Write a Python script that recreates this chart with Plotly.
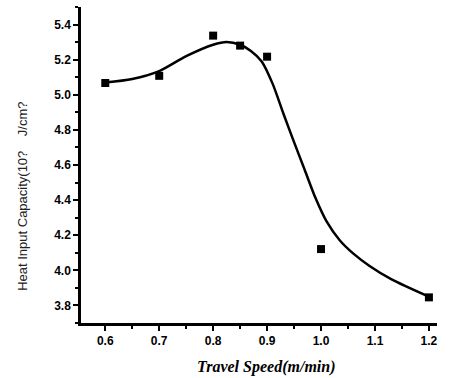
import plotly.graph_objects as go

# measured data
speed = [0.6, 0.7, 0.8, 0.85, 0.9, 1.0, 1.2]
heat = [5.067, 5.108, 5.337, 5.28, 5.217, 4.121, 3.846]

# fitted smooth curve
fit_x = [0.6, 0.65, 0.7, 0.75, 0.8, 0.825, 0.85, 0.87, 0.89, 0.91, 0.93, 0.95, 0.97, 0.99, 1.01, 1.035, 1.06, 1.09, 1.13, 1.2]
fit_y = [5.07, 5.09, 5.135, 5.22, 5.285, 5.30, 5.285, 5.25, 5.19, 5.065, 4.895, 4.73, 4.57, 4.41, 4.28, 4.17, 4.095, 4.025, 3.95, 3.85]

x_ticks = [0.6, 0.7, 0.8, 0.9, 1.0, 1.1, 1.2]
y_ticks = [3.8, 4.0, 4.2, 4.4, 4.6, 4.8, 5.0, 5.2, 5.4]

fig = go.Figure()
fig.add_trace(go.Scatter(x=fit_x, y=fit_y, mode="lines",
                         line=dict(color="black", width=2.5, shape="spline", smoothing=0.8),
                         hoverinfo="skip", showlegend=False))
fig.add_trace(go.Scatter(x=speed, y=heat, mode="markers", marker=dict(symbol="square", size=8, color="black"),
                         showlegend=False))

axis_common = dict(showline=True, linecolor="black", linewidth=2.5, ticks="outside", tickcolor="black",
                   tickwidth=2, ticklen=5, showgrid=False, zeroline=False, mirror=False,
                   tickfont=dict(family="Liberation Sans, Arial", size=12, color="black"))

fig.update_layout(
    width=454, height=378,
    margin=dict(l=81, r=17, t=7, b=55),
    paper_bgcolor="white", plot_bgcolor="white",
    xaxis=dict(range=[0.555, 1.215], tickvals=x_ticks, ticktext=[f"<b>{v:.1f}</b>" for v in x_ticks],
               minor=dict(ticks="outside", dtick=0.05, tick0=0.6, ticklen=3, tickwidth=2, tickcolor="black"),
               **axis_common),
    yaxis=dict(range=[3.7, 5.5], tickvals=y_ticks, ticktext=[f"<b>{v:.1f}</b>" for v in y_ticks],
               minor=dict(ticks="outside", dtick=0.1, tick0=3.8, ticklen=3, tickwidth=2, tickcolor="black"),
               **axis_common),
    annotations=[
        dict(text="<b><i>Travel Speed(m/min)</i></b>", xref="paper", yref="paper", x=0.522, y=-0.139,
             showarrow=False, xanchor="center", yanchor="middle",
             font=dict(family="Liberation Serif, Times New Roman, serif", size=16, color="black")),
        dict(text="Heat Input Capacity(10?" + "\u00a0" * 4 + "J/cm?", xref="paper", yref="paper", x=-0.165, y=0.40,
             textangle=-90, showarrow=False, xanchor="center", yanchor="middle",
             font=dict(family="Liberation Sans, Arial", size=13, color="#222")),
    ],
)

fig.write_html("out.html")
